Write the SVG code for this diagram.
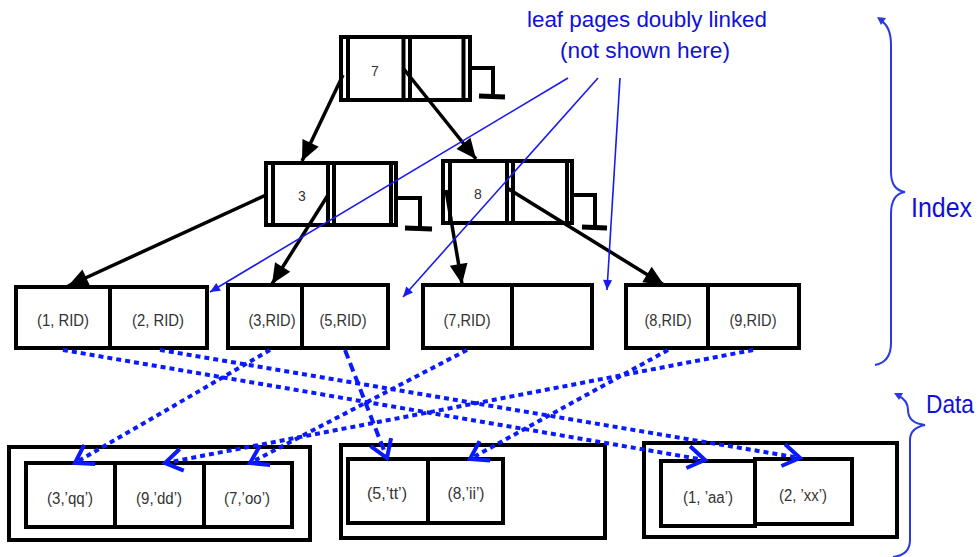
<svg xmlns="http://www.w3.org/2000/svg" width="980" height="557" viewBox="0 0 980 557">
<defs>
<style>
.box{fill:#fff;stroke:#000;stroke-width:4}
.ln{stroke:#000;stroke-width:4;fill:none}
.bar{stroke:#000;stroke-width:5;fill:none}
.t{font-family:"Liberation Sans",Arial,sans-serif;font-size:16px;fill:#333;text-anchor:middle}
.k{font-family:"Liberation Sans",Arial,sans-serif;font-size:14px;fill:#333;text-anchor:middle}
.lbl{font-family:"Liberation Sans",Arial,sans-serif;fill:#1010d8}
.tree{stroke:#000;stroke-width:3.5;fill:none;marker-end:url(#ah)}
.note{stroke:#1a1aee;stroke-width:1.6;fill:none;marker-end:url(#bh)}
.ptr{stroke:#0a1aff;stroke-width:4;stroke-dasharray:5 4;fill:none;marker-end:url(#oh)}
.brace{stroke:#2a3ae0;stroke-width:2;fill:none}
</style>
<marker id="ah" markerUnits="userSpaceOnUse" markerWidth="24" markerHeight="24" viewBox="-22 -10 24 20" refX="0" refY="0" orient="auto">
<path d="M-20,-9 L0,0 L-20,9 Z" fill="#000"/>
</marker>
<marker id="bh" markerUnits="userSpaceOnUse" markerWidth="14" markerHeight="14" viewBox="-12 -6 14 12" refX="0" refY="0" orient="auto">
<path d="M-10,-4.5 L0,0 L-10,4.5 Z" fill="#1a1aee"/>
</marker>
<marker id="oh" markerUnits="userSpaceOnUse" markerWidth="30" markerHeight="30" viewBox="-22 -15 26 30" refX="0" refY="0" orient="auto">
<path d="M-17,-11 L0,0 L-17,11" fill="none" stroke="#0a1aff" stroke-width="4"/>
</marker>
</defs>

<g id="root">
<rect class="box" x="341" y="37" width="129" height="63"/>
<line class="ln" x1="348" y1="37" x2="348" y2="100"/>
<line class="ln" x1="403.5" y1="37" x2="403.5" y2="100"/>
<line class="ln" x1="410" y1="37" x2="410" y2="100"/>
<line class="ln" x1="463.5" y1="37" x2="463.5" y2="100"/>
<text class="k" x="375" y="76">7</text>
<polyline class="ln" points="470,68 493,68 493,95"/>
<line class="bar" x1="479" y1="96" x2="505" y2="97"/>
</g>

<g id="n3">
<rect class="box" x="266" y="163" width="130" height="62"/>
<line class="ln" x1="273" y1="163" x2="273" y2="225"/>
<line class="ln" x1="328" y1="163" x2="328" y2="225"/>
<line class="ln" x1="334" y1="163" x2="334" y2="225"/>
<line class="ln" x1="391" y1="163" x2="391" y2="225"/>
<text class="k" x="302" y="201">3</text>
<polyline class="ln" points="396,198 420,198 420,227"/>
<line class="bar" x1="405" y1="228" x2="432" y2="229"/>
</g>

<g id="n8">
<rect class="box" x="443" y="161" width="129" height="62"/>
<line class="ln" x1="450" y1="161" x2="450" y2="223"/>
<line class="ln" x1="507" y1="161" x2="507" y2="223"/>
<line class="ln" x1="513" y1="161" x2="513" y2="223"/>
<line class="ln" x1="567" y1="161" x2="567" y2="223"/>
<text class="k" x="478" y="199">8</text>
<polyline class="ln" points="572,195 595,195 595,225"/>
<line class="bar" x1="582" y1="227" x2="607" y2="228"/>
</g>

<g id="leaf1">
<rect class="box" x="16" y="287" width="191" height="61"/>
<line class="ln" x1="110" y1="287" x2="110" y2="348"/>
<text class="t" x="63" y="326" textLength="52" lengthAdjust="spacingAndGlyphs">(1, RID)</text>
<text class="t" x="158" y="326" textLength="52" lengthAdjust="spacingAndGlyphs">(2, RID)</text>
</g>
<g id="leaf2">
<rect class="box" x="228" y="285" width="160" height="63"/>
<line class="ln" x1="302" y1="285" x2="302" y2="348"/>
<text class="t" x="272" y="326" textLength="47" lengthAdjust="spacingAndGlyphs">(3,RID)</text>
<text class="t" x="343" y="326" textLength="47" lengthAdjust="spacingAndGlyphs">(5,RID)</text>
</g>
<g id="leaf3">
<rect class="box" x="423" y="285" width="169" height="63"/>
<line class="ln" x1="512" y1="285" x2="512" y2="348"/>
<text class="t" x="467" y="326" textLength="47" lengthAdjust="spacingAndGlyphs">(7,RID)</text>
</g>
<g id="leaf4">
<rect class="box" x="626" y="285" width="173" height="63"/>
<line class="ln" x1="708" y1="285" x2="708" y2="348"/>
<text class="t" x="668" y="326" textLength="47" lengthAdjust="spacingAndGlyphs">(8,RID)</text>
<text class="t" x="753" y="326" textLength="47" lengthAdjust="spacingAndGlyphs">(9,RID)</text>
</g>

<g id="data1">
<rect class="box" x="9" y="447" width="301" height="93"/>
<rect class="box" x="26" y="463" width="266" height="64"/>
<line class="ln" x1="115" y1="463" x2="115" y2="527"/>
<line class="ln" x1="204" y1="463" x2="204" y2="527"/>
<text class="t" x="70" y="504" textLength="46" lengthAdjust="spacingAndGlyphs">(3,’qq’)</text>
<text class="t" x="159" y="504" textLength="46" lengthAdjust="spacingAndGlyphs">(9,’dd’)</text>
<text class="t" x="247" y="504" textLength="46" lengthAdjust="spacingAndGlyphs">(7,’oo’)</text>
</g>
<g id="data2">
<rect class="box" x="341" y="445" width="264" height="93"/>
<rect class="box" x="348" y="459" width="155" height="64"/>
<line class="ln" x1="428" y1="459" x2="428" y2="523"/>
<text class="t" x="387" y="499" textLength="40" lengthAdjust="spacingAndGlyphs">(5,’tt’)</text>
<text class="t" x="466" y="499" textLength="37" lengthAdjust="spacingAndGlyphs">(8,’ii’)</text>
</g>
<g id="data3">
<rect class="box" x="644" y="443" width="253" height="94"/>
<rect class="box" x="755" y="459" width="97" height="65"/>
<rect class="box" x="661" y="461" width="94" height="65"/>
<text class="t" x="708" y="503" textLength="50" lengthAdjust="spacingAndGlyphs">(1, ’aa’)</text>
<text class="t" x="803" y="501" textLength="48" lengthAdjust="spacingAndGlyphs">(2, ’xx’)</text>
</g>

<g id="connectors">
<line class="tree" x1="343" y1="75" x2="302" y2="161"/>
<line class="tree" x1="403" y1="68" x2="476" y2="159"/>
<line class="tree" x1="266" y1="195" x2="68" y2="286"/>
<line class="tree" x1="328" y1="195" x2="272" y2="284"/>
<line class="tree" x1="446" y1="190" x2="462" y2="284"/>
<line class="tree" x1="507" y1="188" x2="664" y2="285"/>

<line class="note" x1="568" y1="78" x2="210" y2="292"/>
<line class="note" x1="598" y1="78" x2="403" y2="297"/>
<line class="note" x1="620" y1="78" x2="607" y2="290"/>

<line class="ptr" x1="63" y1="350" x2="705" y2="460"/>
<line class="ptr" x1="160" y1="350" x2="800" y2="458"/>
<line class="ptr" x1="270" y1="350" x2="75" y2="463"/>
<line class="ptr" x1="345" y1="350" x2="387" y2="458" style="stroke-dasharray:9 5"/>
<line class="ptr" x1="467" y1="350" x2="250" y2="463"/>
<line class="ptr" x1="668" y1="350" x2="470" y2="459"/>
<line class="ptr" x1="753" y1="350" x2="165" y2="463"/>
</g>

<g id="labels">
<text class="lbl" x="647" y="27" font-size="22" text-anchor="middle" textLength="240" lengthAdjust="spacingAndGlyphs">leaf pages doubly linked</text>
<text class="lbl" x="645" y="58" font-size="22" text-anchor="middle" textLength="170" lengthAdjust="spacingAndGlyphs">(not shown here)</text>
<path class="brace" d="M880,20 Q891,26 891,45 L891,172 Q891,190 905,192 Q891,194 891,214 L891,343 Q891,362 875,365"/>
<path d="M877,17 L886,18 L881,25 Z" fill="#2a3ae0"/>
<text class="lbl" x="911" y="217" font-size="27" textLength="61" lengthAdjust="spacingAndGlyphs">Index</text>
<path class="brace" d="M897,395 Q908,400 908,410 Q908,423 925,425 Q910,428 910,440 L910,540 Q910,555 893,557"/>
<path d="M894,393 L903,393 L899,400 Z" fill="#2a3ae0"/>
<text class="lbl" x="926" y="413" font-size="26" textLength="48" lengthAdjust="spacingAndGlyphs">Data</text>
</g>
</svg>
